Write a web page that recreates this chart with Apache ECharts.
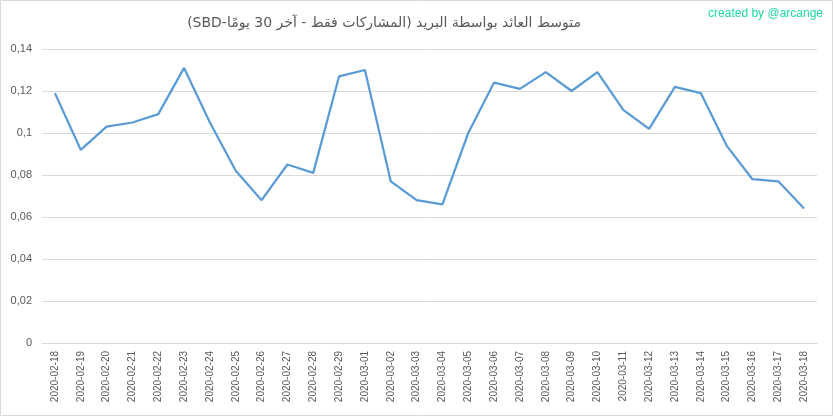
<!DOCTYPE html>
<html dir="rtl">
<head>
<meta charset="utf-8">
<script src="https://cdn.jsdelivr.net/npm/echarts@6/dist/echarts.min.js"></script>
<style>html,body{margin:0;padding:0;background:#fff;}#c{width:833px;height:416px;}</style>
</head>
<body>
<div id="c"></div>
<script>
const categories = ['2020-02-18','2020-02-19','2020-02-20','2020-02-21','2020-02-22','2020-02-23','2020-02-24','2020-02-25','2020-02-26','2020-02-27','2020-02-28','2020-02-29','2020-03-01','2020-03-02','2020-03-03','2020-03-04','2020-03-05','2020-03-06','2020-03-07','2020-03-08','2020-03-09','2020-03-10','2020-03-11','2020-03-12','2020-03-13','2020-03-14','2020-03-15','2020-03-16','2020-03-17','2020-03-18'];
const values = [0.119,0.092,0.103,0.105,0.109,0.131,0.105,0.082,0.068,0.085,0.081,0.127,0.130,0.077,0.068,0.066,0.100,0.124,0.121,0.129,0.120,0.129,0.111,0.102,0.122,0.119,0.094,0.078,0.077,0.064];
const titleText = 'متوسط العائد بواسطة البريد (المشاركات فقط - آخر 30 يومًا-SBD)';
const watermark = 'created by @arcange';

const chart = echarts.init(document.getElementById('c'), null, {renderer: 'canvas'});
chart.setOption({
  backgroundColor: '#fff',
  animation: false,
  title: {
    text: titleText,
    left: 379, top: 11, textAlign: 'center',
    textStyle: {fontSize: 14, fontWeight: 'normal', color: '#595959', fontFamily: 'DejaVu Sans, sans-serif'}
  },
  graphic: [
    {type: 'rect', shape: {x: 0.5, y: 0.5, width: 832, height: 415}, style: {fill: null, stroke: '#d9d9d9', lineWidth: 1}},
    {type: 'text', right: 10, top: 8, style: {text: watermark, fill: '#1fd9a4', font: '12px "Liberation Sans", sans-serif'}}
  ],
  grid: {left: 42, right: 16, top: 49, bottom: 73, containLabel: false},
  xAxis: {
    type: 'category', data: categories, boundaryGap: true,
    axisLine: {lineStyle: {color: '#d9d9d9'}},
    axisTick: {show: false},
    axisLabel: {rotate: 90, interval: 0, fontSize: 10, color: '#595959', margin: 8, fontFamily: 'Liberation Sans, sans-serif'}
  },
  yAxis: {
    type: 'value', min: 0, max: 0.14, interval: 0.02,
    axisLine: {show: false}, axisTick: {show: false},
    splitLine: {lineStyle: {color: '#d9d9d9'}},
    axisLabel: {fontSize: 11, color: '#595959', margin: 10, fontFamily: 'Liberation Sans, sans-serif',
      formatter: v => v === 0 ? '0' : String(Math.round(v * 100) / 100).replace('.', ',')}
  },
  series: [{
    type: 'line', data: values, symbol: 'none',
    lineStyle: {color: '#5b9bd5', width: 2.25}
  }]
});
</script>
</body>
</html>
